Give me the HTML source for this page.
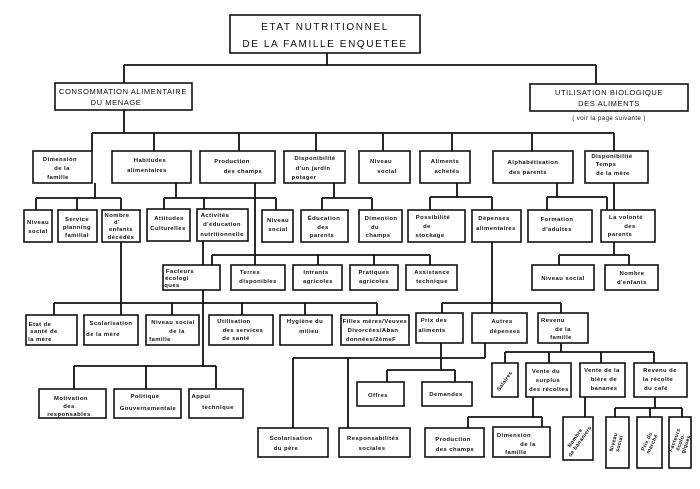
<!DOCTYPE html>
<html><head><meta charset="utf-8"><style>
html,body{margin:0;padding:0;background:#fff;}
svg{display:block;}
.b{fill:#fff;stroke:#111;stroke-width:1.6;}
.l{fill:none;stroke:#111;stroke-width:1.8;}
text{font-family:"Liberation Sans",sans-serif;font-weight:bold;font-size:5.9px;letter-spacing:.45px;fill:#111;text-anchor:middle;}
.big{font-size:10px;font-weight:normal;letter-spacing:1.6px;}
.mid{font-size:7.5px;font-weight:normal;letter-spacing:.6px;}
.r{font-size:5.3px;letter-spacing:.3px;}
</style></head><body>
<svg width="700" height="489" viewBox="0 0 700 489">
<g class="l">
<path d="M327 53V65M124 65H596M124 65V83M596 65V84"/>
<path d="M124 110V133M92 133H614M92 133V151M154 133V151M239 133V151M316 133V151M383 133V151M452 133V151M532 133V151M614 133V151"/>
<path d="M95 183V198M36 198H121M36 198V210M77 198V210M121 198V210"/>
<path d="M176 183V198M164 198H276M164 198V209M204 198V209M276 198V210"/>
<path d="M334 183V198M322 198H372M322 198V210M372 198V210"/>
<path d="M457 183V197M430 197H492M430 197V210M492 197V210"/>
<path d="M557 183V197M547 197H607M547 197V210M607 197V210M614 183V210"/>
<path d="M614 242V255M559 255H629M559 255V265M629 255V265"/>
<path d="M255 183V255M212 255H430M212 255V265M255 255V265M318 255V265M374 255V265M430 255V265"/>
<path d="M203 241V366M74 366H216M74 366V389M146 366V389M216 366V389"/>
<path d="M121 242V315M54 303H377M54 303V315M172 303V315M242 303V315M305 303V315M377 303V315"/>
<path d="M492 242V303M442 303H561M442 303V313M492 303V313M561 303V313"/>
<path d="M485 343V358M293 358H485M293 358V428M348 358V428"/>
<path d="M441 343V370M387 370H455M387 370V382M455 370V382"/>
<path d="M561 343V352M505 352H654M505 352V363M549 352V363M601 352V363M654 352V363"/>
<path d="M533 397V417M468 417H542M468 417V428M542 417V427"/>
<path d="M585 397V417"/>
<path d="M655 397V408M615 408H682M615 408V417M650 408V417M682 408V417"/>
</g>
<rect class="b" x="230" y="15" width="190" height="38"/>
<text class="big" x="325" y="30">ETAT NUTRITIONNEL</text>
<text class="big" x="325" y="47">DE LA FAMILLE ENQUETEE</text>
<rect class="b" x="55" y="83" width="137" height="27"/>
<text class="mid" x="123" y="94">CONSOMMATION ALIMENTAIRE</text>
<text class="mid" x="116" y="105">DU MENAGE</text>
<rect class="b" x="530" y="84" width="158" height="27"/>
<text class="mid" x="609" y="95">UTILISATION BIOLOGIQUE</text>
<text class="mid" x="609" y="106">DES ALIMENTS</text>
<text x="609" y="120" style="font-weight:normal;font-size:6px">( voir la page suivante )</text>
<g>
<rect class="b" x="33" y="151" width="59" height="32"/><text x="60" y="161">Dimension</text><text x="62" y="170">de la</text><text x="58" y="179">famille</text>
<rect class="b" x="112" y="151" width="79" height="32"/><text x="150" y="162">Habitudes</text><text x="147" y="172">alimentaires</text>
<rect class="b" x="200" y="151" width="75" height="32"/><text x="232" y="163">Production</text><text x="243" y="173">des champs</text>
<rect class="b" x="284" y="151" width="61" height="32"/><text x="315" y="160">Disponibilité</text><text x="313" y="170">d'un jardin</text><text x="304" y="179">potager</text>
<rect class="b" x="359" y="151" width="51" height="32"/><text x="381" y="163">Niveau</text><text x="387" y="173">social</text>
<rect class="b" x="420" y="151" width="50" height="32"/><text x="445" y="163">Aliments</text><text x="447" y="173">achetés</text>
<rect class="b" x="493" y="151" width="80" height="32"/><text x="533" y="164">Alphabétisation</text><text x="528" y="174">des parents</text>
<rect class="b" x="585" y="151" width="63" height="32"/><text x="612" y="158">Disponibilité</text><text x="606" y="166">Temps</text><text x="613" y="175">de la mère</text>
</g>
<g>
<rect class="b" x="24" y="210" width="28" height="32"/><text x="38" y="224">Niveau</text><text x="38" y="233">social</text>
<rect class="b" x="58" y="210" width="39" height="32"/><text x="77" y="221">Service</text><text x="77" y="229">planning</text><text x="77" y="237">familial</text>
<rect class="b" x="102" y="210" width="38" height="32"/><text x="117" y="217">Nombre</text><text x="117" y="224">d'</text><text x="121" y="231">enfants</text><text x="121" y="239">décédés</text>
<rect class="b" x="147" y="209" width="43" height="32"/><text x="169" y="220">Attitudes</text><text x="168" y="230">Culturelles</text>
<rect class="b" x="197" y="209" width="51" height="32"/><text x="215" y="217">Activités</text><text x="222" y="226">d'éducation</text><text x="222" y="236">nutritionnelle</text>
<rect class="b" x="262" y="210" width="31" height="32"/><text x="278" y="222">Niveau</text><text x="278" y="231">social</text>
<rect class="b" x="301" y="210" width="47" height="32"/><text x="324" y="220">Éducation</text><text x="323" y="229">des</text><text x="322" y="237">parents</text>
<rect class="b" x="359" y="210" width="43" height="32"/><text x="381" y="220">Dimention</text><text x="375" y="229">du</text><text x="378" y="237">champs</text>
<rect class="b" x="408" y="210" width="57" height="32"/><text x="433" y="219">Possibilité</text><text x="427" y="228">de</text><text x="430" y="237">stockage</text>
<rect class="b" x="472" y="210" width="49" height="32"/><text x="494" y="220">Dépenses</text><text x="496" y="230">alimentaires</text>
<rect class="b" x="528" y="210" width="64" height="32"/><text x="557" y="221">Formation</text><text x="557" y="231">d'adultes</text>
<rect class="b" x="601" y="210" width="54" height="32"/><text x="626" y="219">La volonté</text><text x="630" y="228">des</text><text x="620" y="236">parents</text>
</g>
<g>
<rect class="b" x="163" y="265" width="57" height="25"/><text x="180" y="273">Facteurs</text><text x="177" y="280">écologi</text><text x="172" y="287">ques</text>
<rect class="b" x="231" y="265" width="54" height="25"/><text x="250" y="274">Terres</text><text x="258" y="283">disponibles</text>
<rect class="b" x="293" y="265" width="49" height="25"/><text x="316" y="274">Intrants</text><text x="318" y="283">agricoles</text>
<rect class="b" x="350" y="265" width="48" height="25"/><text x="374" y="274">Pratiques</text><text x="374" y="283">agricoles</text>
<rect class="b" x="406" y="265" width="51" height="25"/><text x="432" y="274">Assistance</text><text x="432" y="283">technique</text>
<rect class="b" x="532" y="265" width="62" height="25"/><text x="563" y="280">Niveau social</text>
<rect class="b" x="605" y="265" width="53" height="25"/><text x="632" y="275">Nombre</text><text x="632" y="284">d'enfants</text>
</g>
<g>
<rect class="b" x="26" y="315" width="51" height="30"/><text x="40" y="326">Etat de</text><text x="44" y="333">santé de</text><text x="40" y="341">la mère</text>
<rect class="b" x="84" y="315" width="54" height="30"/><text x="111" y="325">Scolarisation</text><text x="103" y="336">de la mère</text>
<rect class="b" x="146" y="315" width="53" height="30"/><text x="173" y="324">Niveau social</text><text x="177" y="333">de la</text><text x="160" y="341">famille</text>
<rect class="b" x="209" y="315" width="64" height="30"/><text x="234" y="323">Utilisation</text><text x="243" y="332">des services</text><text x="236" y="340">de santé</text>
<rect class="b" x="280" y="315" width="52" height="30"/><text x="305" y="323">Hygiène du</text><text x="309" y="333">milieu</text>
<rect class="b" x="341" y="315" width="68" height="30"/><text x="375" y="323">Filles mères/Veuves</text><text x="373" y="332">Divorcées/Aban</text><text x="371" y="341">données/2èmeF</text>
<rect class="b" x="416" y="313" width="47" height="30"/><text x="434" y="322">Prix des</text><text x="432" y="332">aliments</text>
<rect class="b" x="472" y="313" width="55" height="30"/><text x="502" y="323">Autres</text><text x="505" y="333">dépenses</text>
<rect class="b" x="538" y="313" width="50" height="30"/><text x="553" y="322">Revenu</text><text x="563" y="331">de la</text><text x="561" y="339">famille</text>
</g>
<g>
<rect class="b" x="39" y="389" width="67" height="29"/><text x="71" y="400">Motivation</text><text x="69" y="408">des</text><text x="69" y="416">responsables</text>
<rect class="b" x="114" y="389" width="67" height="29"/><text x="145" y="398">Politique</text><text x="148" y="410">Gouvernementale</text>
<rect class="b" x="189" y="389" width="54" height="29"/><text x="201" y="398">Appui</text><text x="218" y="409">technique</text>
<rect class="b" x="357" y="382" width="47" height="24"/><text x="378" y="397">Offres</text>
<rect class="b" x="422" y="382" width="50" height="24"/><text x="446" y="396">Demandes</text>
<rect class="b" x="492" y="363" width="26" height="34"/><text class="r" x="0" y="0" transform="translate(506,382) rotate(-55)">Salaires</text>
<rect class="b" x="526" y="363" width="45" height="34"/><text x="546" y="373">Vente du</text><text x="548" y="382">surplus</text><text x="549" y="391">des récoltes</text>
<rect class="b" x="580" y="363" width="45" height="34"/><text x="602" y="372">Vente de la</text><text x="604" y="381">bière de</text><text x="604" y="390">bananes</text>
<rect class="b" x="634" y="363" width="53" height="34"/><text x="660" y="372">Revenu de</text><text x="658" y="381">la récolte</text><text x="656" y="390">du café</text>
<rect class="b" x="258" y="428" width="70" height="29"/><text x="291" y="440">Scolarisation</text><text x="286" y="450">du père</text>
<rect class="b" x="339" y="428" width="71" height="29"/><text x="373" y="440">Responsabilités</text><text x="372" y="450">sociales</text>
<rect class="b" x="425" y="428" width="59" height="29"/><text x="453" y="441">Production</text><text x="455" y="451">des champs</text>
<rect class="b" x="493" y="427" width="57" height="30"/><text x="514" y="437">Dimension</text><text x="528" y="446">de la</text><text x="516" y="454">famille</text>
<rect class="b" x="563" y="417" width="30" height="43"/><text class="r" x="0" y="0" transform="translate(578,440) rotate(-55)"><tspan x="0" dy="-2">Nombre</tspan><tspan x="0" dy="6">de bananiers</tspan></text>
<rect class="b" x="606" y="417" width="23" height="51"/><text class="r" x="0" y="0" transform="translate(617,443) rotate(-75)"><tspan x="0" dy="-2">Niveau</tspan><tspan x="0" dy="6">social</tspan></text>
<rect class="b" x="637" y="417" width="25" height="51"/><text class="r" x="0" y="0" transform="translate(650,443) rotate(-65)"><tspan x="0" dy="-2">Prix du</tspan><tspan x="0" dy="6">marché</tspan></text>
<rect class="b" x="669" y="417" width="22" height="51"/><text class="r" x="0" y="0" transform="translate(680,442) rotate(-70)"><tspan x="0" dy="-4">Facteurs</tspan><tspan x="0" dy="6">écolo-</tspan><tspan x="0" dy="6">giques</tspan></text>
</g>
</svg>
</body></html>
